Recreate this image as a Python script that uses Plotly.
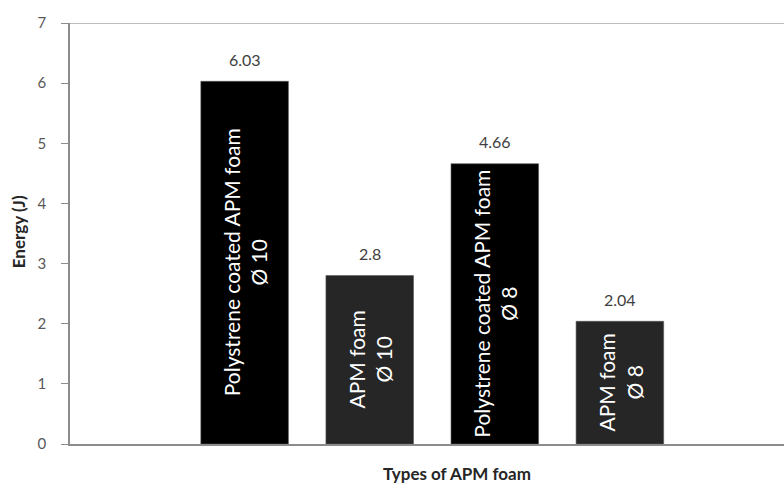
import plotly.graph_objects as go

# Impact energy absorbed by each foam type
categories = [
    "Polystrene coated APM foam<br>Ø 10",
    "APM foam<br>Ø 10",
    "Polystrene coated APM foam<br>Ø 8",
    "APM foam<br>Ø 8",
]
energy = [6.03, 2.8, 4.66, 2.04]
value_labels = ["6.03", "2.8", "4.66", "2.04"]
bar_colors = ["#000000", "#262626", "#000000", "#262626"]
y_ticks = [0, 1, 2, 3, 4, 5, 6, 7]

positions = list(range(len(categories)))
font_family = "Lato, 'Open Sans', sans-serif"

fig = go.Figure()
fig.add_trace(go.Bar(
    x=positions,
    y=energy,
    width=0.7,
    marker=dict(color=bar_colors, line=dict(color="#555555", width=0.6)),
    showlegend=False,
    hoverinfo="skip",
))

annotations = []
for xi, yi, lab, cat in zip(positions, energy, value_labels, categories):
    # value above bar
    annotations.append(dict(
        x=xi, y=yi, xref="x", yref="y", text=lab, showarrow=False,
        yanchor="middle", yshift=22,
        font=dict(family=font_family, size=16, color="#404040"),
    ))
    # category name written vertically inside the bar
    annotations.append(dict(
        x=xi, y=yi / 2, xref="x", yref="y", text=cat, showarrow=False,
        textangle=-90, align="center",
        font=dict(family=font_family, size=21, color="#ffffff"),
    ))

# axis titles
annotations.append(dict(
    x=0.542, y=-0.069, xref="paper", yref="paper", text="<b>Types of APM foam</b>",
    showarrow=False, yanchor="middle",
    font=dict(family=font_family, size=17, color="#262626"),
))
annotations.append(dict(
    x=0, y=0.503, xref="paper", yref="paper", text="<b>Energy (J)</b>",
    showarrow=False, textangle=-90, xanchor="center", xshift=-52,
    font=dict(family=font_family, size=17, color="#262626"),
))

fig.update_layout(
    width=784, height=486,
    margin=dict(l=70, r=0, t=23, b=42),
    paper_bgcolor="white", plot_bgcolor="white",
    annotations=annotations,
    xaxis=dict(
        range=[-1.396, 4.312], showticklabels=False, ticks="",
        showgrid=False, zeroline=False,
        showline=True, linecolor="#8c8c8c", linewidth=1.5,
    ),
    yaxis=dict(
        range=[0, 7], tickvals=y_ticks, ticks="outside", ticklen=7,
        tickcolor="#8c8c8c", tickwidth=1.2,
        showgrid=False, zeroline=False,
        showline=True, linecolor="#8c8c8c", linewidth=1.5,
        tickfont=dict(family=font_family, size=15, color="#595959"),
        ticklabelstandoff=12,
    ),
    shapes=[dict(type="line", xref="paper", yref="y", x0=0, x1=1, y0=7, y1=7,
                 line=dict(color="#a6a6a6", width=1.5))],
)

fig.write_html("out.html")
